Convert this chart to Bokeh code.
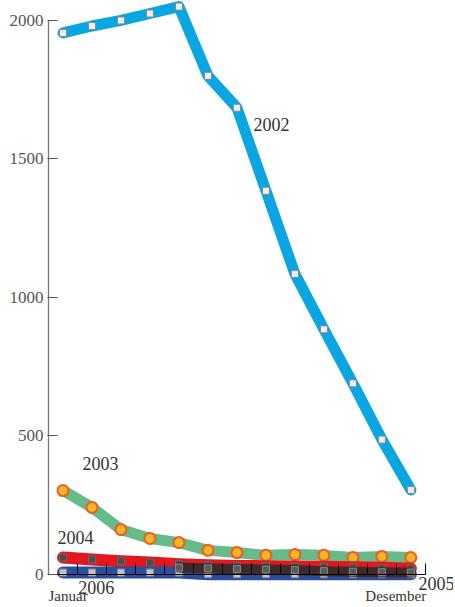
from bokeh.plotting import figure
from bokeh.models import LinearAxis, FixedTicker, Range1d, ColumnDataSource
from bokeh.core.properties import value
from bokeh.embed import file_html
from bokeh.resources import INLINE

nan = float("nan")

# 13 points, January .. December
idx = list(range(13))
s2002 = [1955, 1980, 2000, 2025, 2050, 1800, 1685, 1385, 1085, 885, 690, 487, 305]
s2003 = [303, 242, 162, 130, 115, 87, 79, 69, 72, 69, 61, 65, 61]
s2004 = [61, 54, 48, 43, 37, 33, 31, 30, 29, 28, 26, 24, 22]
s2005 = [nan, nan, nan, nan, 25, 22, 20, 18, 16, 12, 10, 8, 7]
s2006 = [7, 7, 7, 7, 7, 1, 1, 1, 1, 1, 1, 1, 1]
y_ticks = [0, 500, 1000, 1500, 2000]
x_bounds = [1, 2, 3, 4, 5, 6, 7, 8, 9, 10, 11, 12, 13]
month_labels = ["Januar", "Desember"]
series_names = ["2002", "2003", "2004", "2005", "2006"]

xc = [i + 0.5 for i in idx]

FONT = "Liberation Serif"

p = figure(width=453, height=605, output_backend="svg", toolbar_location=None,
           x_range=Range1d(0, 13.97), y_range=Range1d(-112, 2072),
           x_axis_location=None, y_axis_location=None,
           min_border_left=48, min_border_right=0, min_border_top=0, min_border_bottom=0)
p.outline_line_color = None
p.xgrid.visible = False
p.ygrid.visible = False
p.background_fill_color = "white"
p.border_fill_color = "white"

# y axis
ya = LinearAxis(ticker=FixedTicker(ticks=y_ticks), bounds=(0, 2000))
ya.axis_line_color = "#777777"
ya.axis_line_width = 1.3
ya.major_tick_line_color = "#555555"
ya.major_tick_in = 9
ya.major_tick_out = 1
ya.minor_tick_line_color = None
ya.major_label_standoff = 4
ya.major_label_text_font = FONT
ya.major_label_text_font_size = "17px"
ya.major_label_text_color = "#555555"
p.add_layout(ya, "left")

def line_with_markers(vals, color, lw, marker, msize, mfill, mline, mlw=1):
    src = ColumnDataSource(dict(x=xc, y=vals))
    p.line("x", "y", source=src, line_color=color, line_width=lw,
           line_join="round", line_cap="round")
    p.scatter("x", "y", source=src, marker=marker, size=msize,
              fill_color=mfill, line_color=mline, line_width=mlw)

line_with_markers(s2002, "#0AA6E2", 11, "square", 7, "#EEEEEE", "#8A8A8A")
line_with_markers(s2003, "#66BB88", 11, "circle", 11, "#F3B626", "#EE5B25", 2)
line_with_markers(s2004, "#E4161E", 12, "square", 7, "#4D4D4D", "#6A6A6A")
line_with_markers(s2006, "#2A4D9E", 12, "square", 7, "#C4C4C4", "#8A8A8A")
line_with_markers(s2005, "#3E2A2A", 10, "square", 7, "#5A5A5A", "#8A8A8A")

# x axis at y = 0 with boundary ticks, no tick labels
xa = LinearAxis(ticker=FixedTicker(ticks=x_bounds), bounds=(0, 13), fixed_location=0)
xa.axis_line_color = "black"
xa.axis_line_width = 1
xa.major_tick_line_color = "black"
xa.major_tick_in = 11
xa.major_tick_out = 0
xa.minor_tick_line_color = None
xa.major_label_text_color = None
p.add_layout(xa, "below")

# series labels
p.text(x=[7.07, 1.17, 0.31, 12.76, 1.03], y=[1625, 401, 134, -32, -47], text=series_names,
       text_font=value(FONT), text_font_size="18px", text_color="#333333",
       text_align="left", text_baseline="middle")

# month labels
p.text(x=[0.0, 10.93], y=[-78, -78], text=month_labels,
       text_font=value(FONT), text_font_size="15px", text_color="#333333",
       text_align="left", text_baseline="middle")

open("out.html", "w").write(file_html(p, INLINE))
